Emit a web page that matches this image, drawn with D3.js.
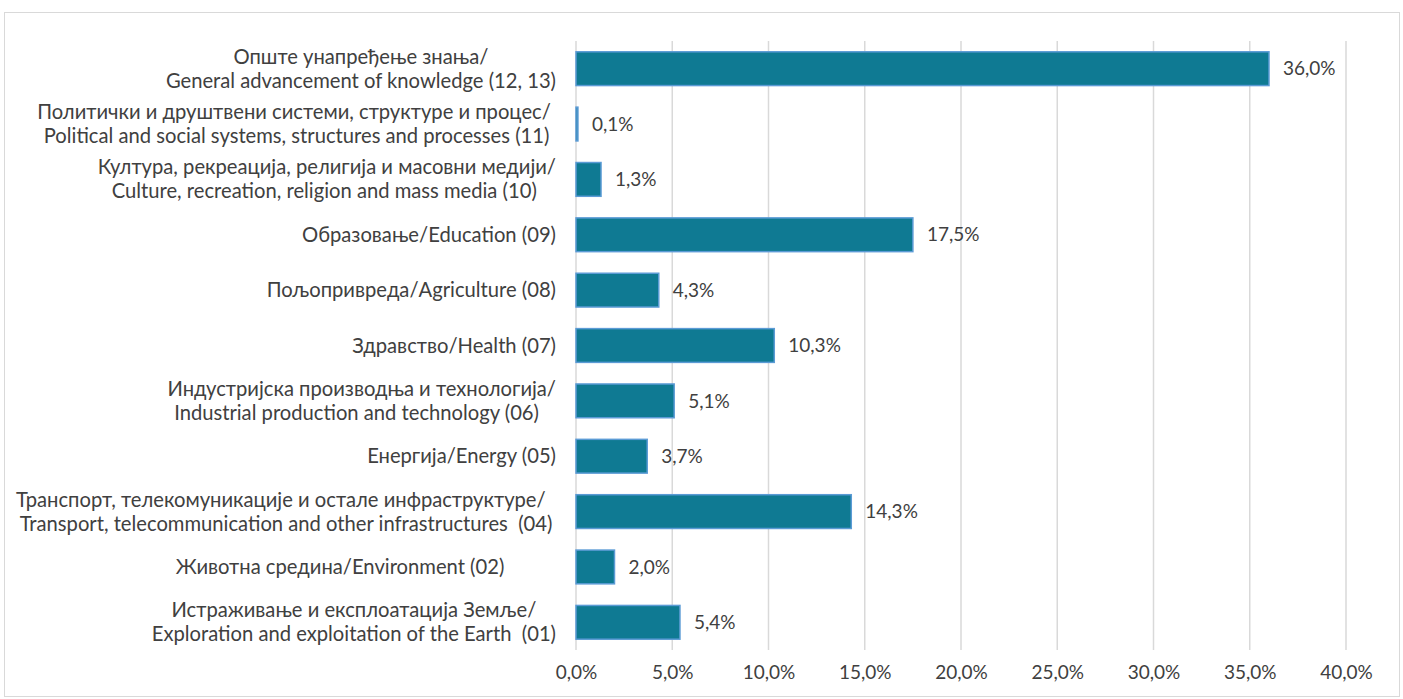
<!DOCTYPE html>
<html>
<head>
<meta charset="utf-8">
<script src="https://cdn.jsdelivr.net/npm/d3@7"></script>
<style>
  body { margin: 0; background: #fff; }
  text { font-family: Lato, sans-serif; fill: #404040; white-space: pre; }
</style>
</head>
<body>
<svg id="chart" width="1403" height="699"></svg>
<script>
// categories, top to bottom (lines of each label)
const categories = [
    ["Опште унапређење знања/", "General advancement of knowledge (12, 13)"],
    ["Политички и друштвени системи, структуре и процес/ ", "Political and social systems, structures and processes (11)"],
    ["Култура, рекреација, религија и масовни медији/", "Culture, recreation, religion and mass media (10) "],
    ["Образовање/Education (09)"],
    ["Пољопривреда/Agriculture (08)"],
    ["Здравство/Health (07)"],
    ["Индустријска производња и технологија/", "Industrial production and technology (06)  "],
    ["Енергија/Energy (05)"],
    ["Транспорт, телекомуникације и остале инфраструктуре/  ", "Transport, telecommunication and other infrastructures  (04)"],
    ["Животна средина/Environment (02)          "],
    ["Истраживање и експлоатација Земље/", "Exploration and exploitation of the Earth  (01)"]
];
const values = [36.0, 0.1, 1.3, 17.5, 4.3, 10.3, 5.1, 3.7, 14.3, 2.0, 5.4];
const ticks = [0, 5, 10, 15, 20, 25, 30, 35, 40];

const fmt = v => d3.format(".1f")(v).replace(".", ",") + "%";
const fontSize = "19px";
const catFontSize = "20.2px";

const svg = d3.select("#chart");

// outer frame
svg.append("rect")
    .attr("x", 4.5).attr("y", 12.5)
    .attr("width", 1395).attr("height", 684)
    .attr("fill", "none")
    .attr("stroke", "#d9d9d9");

const x = d3.scaleLinear().domain([0, 40]).range([576, 1346]);
const y = d3.scaleBand()
    .domain(d3.range(categories.length))
    .range([41, 650])
    .paddingInner(0.39)
    .paddingOuter(0.195);

// grid
svg.append("g")
    .selectAll("line")
    .data(ticks)
    .join("line")
    .attr("x1", d => x(d)).attr("x2", d => x(d))
    .attr("y1", 41).attr("y2", 650)
    .attr("stroke", "#d9d9d9")
    .attr("stroke-width", 1.5);

// x axis labels
const xAxis = svg.append("g")
    .attr("transform", "translate(0,650)")
    .call(d3.axisBottom(x).tickValues(ticks).tickFormat(fmt).tickSize(0).tickPadding(16));
xAxis.select(".domain").remove();
xAxis.selectAll("text")
    .style("font-family", "Lato, sans-serif")
    .style("font-size", fontSize)
    .attr("fill", "#404040");

// bars
svg.append("g")
    .selectAll("rect")
    .data(values)
    .join("rect")
    .attr("x", x(0))
    .attr("y", (d, i) => y(i))
    .attr("width", d => x(d) - x(0))
    .attr("height", y.bandwidth())
    .attr("fill", "#0f7a93")
    .attr("stroke", "#5b9bd5")
    .attr("stroke-width", 1.5);

// value labels
svg.append("g")
    .selectAll("text")
    .data(values)
    .join("text")
    .attr("x", d => x(d) + 14)
    .attr("y", (d, i) => y(i) + y.bandwidth() / 2)
    .attr("dy", "0.35em")
    .style("font-size", fontSize)
    .text(fmt);

// category labels, lines centred on each other, block right-aligned
const lineH = 24;
const labels = svg.append("g")
    .selectAll("g")
    .data(categories)
    .join("g");

labels.each(function(lines, i) {
    const g = d3.select(this);
    const cy = y(i) + y.bandwidth() / 2;
    const t = g.selectAll("text")
        .data(lines)
        .join("text")
        .attr("text-anchor", "middle")
        .attr("y", (d, j) => cy + (j - (lines.length - 1) / 2) * lineH)
        .attr("dy", "0.35em")
        .style("font-size", catFontSize)
        .text(d => d);
    let w = 0;
    t.each(function() { w = Math.max(w, this.getComputedTextLength()); });
    t.attr("x", 556 - w / 2);
});
</script>
</body>
</html>
